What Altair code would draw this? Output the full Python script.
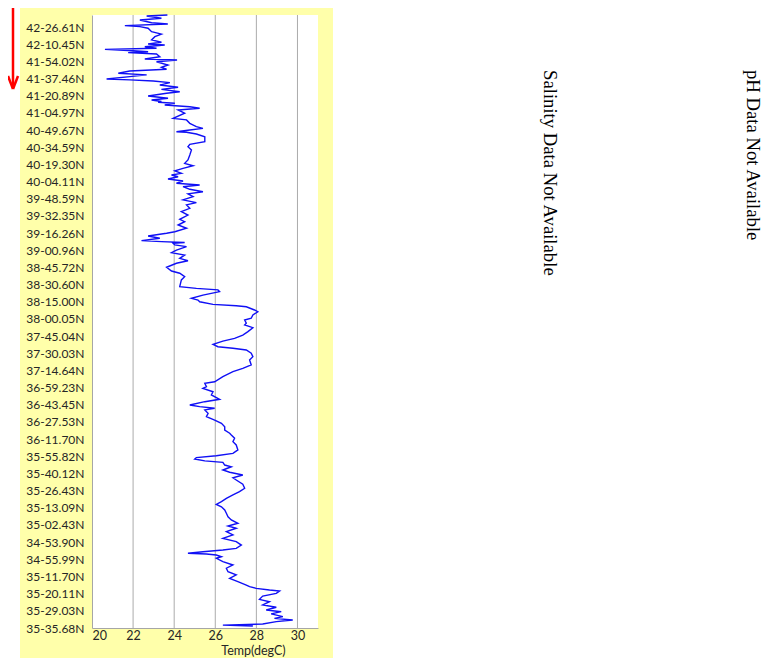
import altair as alt
import pandas as pd

# Latitude tick labels, bottom (index 0) to top (index 35)
lat_labels = [
    "35-35.68N", "35-29.03N", "35-20.11N", "35-11.70N", "34-55.99N", "34-53.90N",
    "35-02.43N", "35-13.09N", "35-26.43N", "35-40.12N", "35-55.82N", "36-11.70N",
    "36-27.53N", "36-43.45N", "36-59.23N", "37-14.64N", "37-30.03N", "37-45.04N",
    "38-00.05N", "38-15.00N", "38-30.60N", "38-45.72N", "39-00.96N", "39-16.26N",
    "39-32.35N", "39-48.59N", "40-04.11N", "40-19.30N", "40-34.59N", "40-49.67N",
    "41-04.97N", "41-20.89N", "41-37.46N", "41-54.02N", "42-10.45N", "42-26.61N",
]

# Temperature (degC) along the track
temp = [
    23.67, 22.66, 23.38, 22.33, 22.90, 23.69, 21.60, 22.33, 22.73, 22.90,
    23.38, 23.06, 22.90, 23.38, 22.73, 23.54, 22.57, 23.14, 20.63, 22.00,
    22.73, 21.76, 23.14, 23.30, 22.57, 24.14, 23.14, 23.70, 23.38, 23.63,
    21.84, 21.28, 22.66, 21.84, 20.71, 21.84, 22.98, 23.79, 23.30, 24.19,
    23.38, 24.27, 23.63, 22.73, 23.70, 22.90, 23.38, 23.22, 24.03, 23.54,
    24.76, 25.24, 24.19, 24.51, 23.95, 24.60, 24.76, 25.08, 25.40, 24.76,
    24.11, 24.60, 25.08, 25.49, 25.49, 24.76, 24.67, 24.84, 24.76, 24.67,
    24.51, 24.92, 24.43, 24.03, 24.35, 23.87, 24.19, 23.70, 24.43, 24.11,
    25.24, 24.43, 24.76, 25.40, 24.67, 24.92, 24.43, 25.08, 24.60, 24.76,
    24.35, 24.67, 24.27, 24.51, 24.19, 24.60, 24.03, 23.63, 22.73, 23.30,
    22.41, 23.38, 24.51, 23.95, 24.03, 24.60, 24.11, 23.87, 24.51, 24.27,
    24.67, 24.11, 23.63, 23.87, 24.27, 24.51, 24.35, 24.27, 25.08, 26.13,
    26.21, 25.40, 24.84, 25.16, 25.24, 25.89, 27.02, 27.51, 27.91, 28.07,
    27.83, 27.75, 27.43, 27.51, 27.43, 27.83, 27.59, 27.34, 26.94, 26.37,
    25.89, 26.13, 26.86, 27.51, 27.75, 27.83, 27.67, 27.75, 27.34, 26.86,
    26.37, 25.97, 25.49, 25.57, 25.40, 25.89, 25.81, 26.21, 25.49, 24.76,
    25.24, 25.97, 25.49, 25.65, 25.57, 25.97, 26.30, 26.46, 26.46, 26.70,
    26.78, 26.94, 26.86, 27.02, 27.10, 26.86, 26.05, 25.08, 25.00, 25.49,
    26.37, 26.46, 26.78, 26.37, 26.70, 27.34, 26.86, 27.02, 27.34, 27.43,
    27.18, 26.86, 26.54, 26.30, 26.05, 26.30, 26.46, 26.54, 26.62, 26.78,
    27.10, 26.62, 27.02, 26.54, 26.86, 26.37, 27.02, 27.27, 27.02, 26.37,
    25.40, 24.67, 25.57, 26.05, 26.30, 26.05, 26.37, 26.86, 26.54, 26.62,
    27.02, 26.70, 27.10, 27.51, 27.67, 27.99, 28.64, 29.13, 28.97, 28.31,
    28.15, 28.64, 28.31, 28.97, 28.48, 29.21, 28.72, 29.29, 28.88, 29.77,
    28.97, 28.31, 26.37, 27.83,
]

# Position along the track, in latitude-label units (0 = bottom label)
pos = [
    35.70, 35.64, 35.51, 35.41, 35.25, 35.18, 35.08, 35.02, 34.93, 34.73,
    34.59, 34.44, 34.25, 34.11, 34.01, 33.95, 33.85, 33.76, 33.70, 33.62,
    33.56, 33.51, 33.43, 33.27, 33.14, 33.08, 32.98, 32.79, 32.65, 32.54,
    32.44, 32.31, 32.21, 32.11, 31.97, 31.92, 31.86, 31.76, 31.62, 31.49,
    31.37, 31.23, 31.14, 30.98, 30.85, 30.75, 30.66, 30.62, 30.56, 30.46,
    30.36, 30.27, 30.17, 29.98, 29.68, 29.59, 29.39, 29.20, 29.10, 29.00,
    28.90, 28.87, 28.77, 28.61, 28.32, 28.17, 28.03, 27.84, 27.55, 27.26,
    27.06, 26.92, 26.77, 26.62, 26.48, 26.38, 26.28, 26.15, 26.03, 25.90,
    25.80, 25.70, 25.55, 25.41, 25.28, 25.12, 24.93, 24.77, 24.64, 24.44,
    24.25, 24.05, 23.80, 23.66, 23.47, 23.28, 23.08, 22.99, 22.83, 22.70,
    22.56, 22.50, 22.45, 22.40, 22.31, 22.21, 22.01, 21.86, 21.72, 21.53,
    21.39, 21.24, 21.01, 20.79, 20.66, 20.46, 20.27, 19.88, 19.78, 19.69,
    19.59, 19.39, 19.20, 19.10, 19.00, 18.85, 18.77, 18.71, 18.52, 18.42,
    18.23, 18.04, 17.94, 17.75, 17.65, 17.49, 17.26, 17.06, 16.87, 16.71,
    16.52, 16.38, 16.29, 16.19, 16.00, 15.80, 15.61, 15.32, 15.12, 14.93,
    14.64, 14.34, 14.25, 14.05, 13.96, 13.76, 13.57, 13.32, 13.18, 12.99,
    12.89, 12.80, 12.70, 12.50, 12.31, 12.11, 11.92, 11.72, 11.53, 11.34,
    11.24, 11.05, 10.85, 10.66, 10.37, 10.17, 10.03, 9.92, 9.84, 9.73,
    9.65, 9.49, 9.39, 9.20, 9.07, 8.91, 8.75, 8.62, 8.37, 8.14,
    7.94, 7.75, 7.55, 7.36, 7.20, 7.06, 6.87, 6.68, 6.48, 6.29,
    6.10, 5.94, 5.81, 5.61, 5.42, 5.22, 5.03, 4.83, 4.64, 4.54,
    4.44, 4.35, 4.31, 4.25, 4.15, 4.06, 3.86, 3.67, 3.48, 3.28,
    3.09, 2.89, 2.70, 2.50, 2.41, 2.31, 2.21, 2.15, 2.02, 1.86,
    1.67, 1.53, 1.34, 1.21, 1.05, 0.95, 0.82, 0.66, 0.56, 0.47,
    0.37, 0.23, 0.17, 0.12,
]

x_ticks = [20, 22, 24, 26, 28, 30]
grid_temps = [22, 24, 26, 28, 30]
x_domain = [20, 31]
y_domain = [0, 35.7]
notes = ["Salinity Data Not Available", "pH Data Not Available"]
x_title = "Temp(degC)"

W, H = 226, 613

df = pd.DataFrame({"order": list(range(len(temp))), "temp": temp, "pos": pos})
one = pd.DataFrame({"k": [0]})

label_js = "[" + ",".join("'" + s + "'" for s in lat_labels) + "]"

xscale = alt.Scale(domain=x_domain, nice=False, zero=False)
yscale = alt.Scale(domain=y_domain, nice=False, zero=False)

x_axis = alt.Axis(
    values=x_ticks, title=x_title, grid=False, ticks=False,
    domainColor="#a6a6a6", labelFont="Lato", labelFontSize=12.5,
    labelColor="#262626", labelPadding=1, titleFont="Lato",
    titleFontSize=12.5, titleFontWeight="normal", titleColor="#262626",
    titleX=161, titleY=22, titleBaseline="middle", titleAlign="center",
    zindex=1,
)

# yellow panel and white plot area
panel = alt.Chart(one).mark_rect(color="#FFFFAA").encode(
    x=alt.value(-72), x2=alt.value(241), y=alt.value(-7), y2=alt.value(643)
)
plot_bg = alt.Chart(one).mark_rect(color="white").encode(
    x=alt.value(0), x2=alt.value(W), y=alt.value(0), y2=alt.value(H)
)

grid = alt.Chart(pd.DataFrame({"temp": grid_temps})).mark_rule(
    color="#ababab", strokeWidth=1
).encode(x=alt.X("temp:Q", scale=xscale, axis=x_axis))

line = alt.Chart(df).mark_line(color="#1010F5", strokeWidth=1.4).encode(
    x=alt.X("temp:Q", scale=xscale, axis=x_axis),
    y=alt.Y(
        "pos:Q",
        scale=yscale,
        axis=alt.Axis(
            values=list(range(len(lat_labels))),
            labelExpr=label_js + "[datum.value]",
            title=None, grid=False, ticks=False, domainColor="#a6a6a6",
            labelFont="Lato", labelFontSize=12, labelColor="#262626",
            labelPadding=8, zindex=1,
        ),
    ),
    order=alt.Order("order:Q"),
)

# red direction arrow
arrow_color = "#FF0000"
shaft = alt.Chart(one).mark_rule(color=arrow_color, strokeWidth=2.5).encode(
    x=alt.value(-79), y=alt.value(-7), y2=alt.value(73)
)
arm_l = alt.Chart(one).mark_rule(color=arrow_color, strokeWidth=2.5).encode(
    x=alt.value(-84), x2=alt.value(-79), y=alt.value(61), y2=alt.value(74)
)
arm_r = alt.Chart(one).mark_rule(color=arrow_color, strokeWidth=2.5).encode(
    x=alt.value(-74), x2=alt.value(-79), y=alt.value(61), y2=alt.value(74)
)

text_sal = alt.Chart(pd.DataFrame({"note": [notes[0]]})).mark_text(
    angle=90, align="left", baseline="middle", font="Liberation Serif",
    fontSize=18.7, color="black"
).encode(text="note:N", x=alt.value(458), y=alt.value(55))
text_ph = alt.Chart(pd.DataFrame({"note": [notes[1]]})).mark_text(
    angle=90, align="left", baseline="middle", font="Liberation Serif",
    fontSize=18.7, color="black"
).encode(text="note:N", x=alt.value(661), y=alt.value(55))

chart = alt.layer(
    panel, plot_bg, grid, line, shaft, arm_l, arm_r, text_sal, text_ph
).properties(
    width=W, height=H,
    autosize=alt.AutoSizeParams(type="none"),
    padding={"left": 84, "top": 7, "right": 449, "bottom": 30},
).configure_view(stroke="transparent")

chart.save("out.html", embed_options={"renderer": "svg", "actions": False})
